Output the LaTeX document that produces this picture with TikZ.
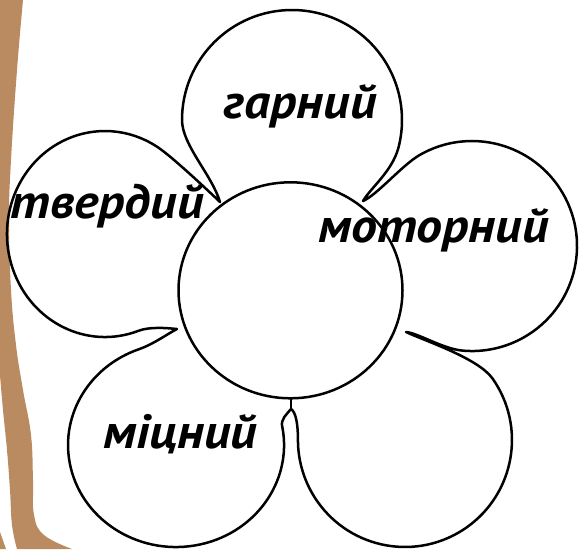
\documentclass[tikz,border=0pt]{standalone}
\usepackage{fontspec}
\setmainfont{PT Sans}
\definecolor{trunk}{RGB}{186,139,97}
\begin{document}
\begin{tikzpicture}[x=1pt,y=1pt,yscale=-1,line join=round,line cap=round,
  outline/.style={draw=black,line width=2.5pt},
  word/.style={anchor=base west,inner sep=0pt,text=black,
    font=\fontsize{48}{48}\selectfont\bfseries\itshape\addfontfeatures{FakeStretch=1.08}}]
\useasboundingbox (0,0) rectangle (580,549);
\fill[white] (0,0) rectangle (580,549);
% brown stripe
\fill[trunk] (0,0) -- plot[smooth,tension=0.7] coordinates {(23,0) (17,70) (11,160) (9,220) (11,290) (16,345) (23,390) (31,435) (33,480) (34,515) (44,535) (72,549)} -- (17,549) -- plot[smooth,tension=0.7] coordinates {(17,549) (12,525) (10,490) (7,450) (3,410) (0,375)} -- cycle;
\fill[trunk] (0,532) -- (6,549) -- (0,549) -- cycle;
% petals
\coordinate (t1) at (220,202);
\coordinate (t2) at (363,201);
\coordinate (t3) at (406,332);
\coordinate (t4) at (291,409);
\coordinate (t5) at (177,329);
\coordinate (stemtop) at (291,398);
\draw[outline]
 (t1) .. controls (212,175) and (182,145) .. (182,120)
 arc[start angle=180,end angle=375,radius=110]
 .. controls (391.5,172) and (370.5,188) .. (t2)
 .. controls (377,195) and (402.2,165.1) .. (419.5,155.1)
 arc[start angle=240,end angle=455,radius=105]
 .. controls (442.8,348.9) and (418,333) .. (t3)
 .. controls (425,341) and (478,358) .. (492.6,378.6)
 arc[start angle=325,end angle=540,radius=107]
 .. controls (298,425) and (296,412) .. (t4)
 .. controls (287,414) and (279.9,419.4) .. (282.4,427.3)
 arc[start angle=-10,end angle=250,x radius=108,y radius=102]
 .. controls (153.3,344.3) and (168,333.5) .. (t5)
 .. controls (167,328) and (149.7,326.5) .. (138.5,330.8)
 arc[start angle=70,end angle=305,x radius=98,y radius=103]
 .. controls (177.3,161.5) and (211.4,193.7) .. (t1) -- cycle;
% centre
\draw[outline] (290.5,290.3) ellipse[x radius=112,y radius=108];
\draw[outline] (t4) -- (stemtop);
% words
\node[word] (w1) at (223,118) {гарний};
\node[word] (w2) at (10.5,218) {твердий};
\node[word] (w3) at (318,242) {моторний};
\node[word] (w4) at (103,448) {міцний};
\end{tikzpicture}
\end{document}
